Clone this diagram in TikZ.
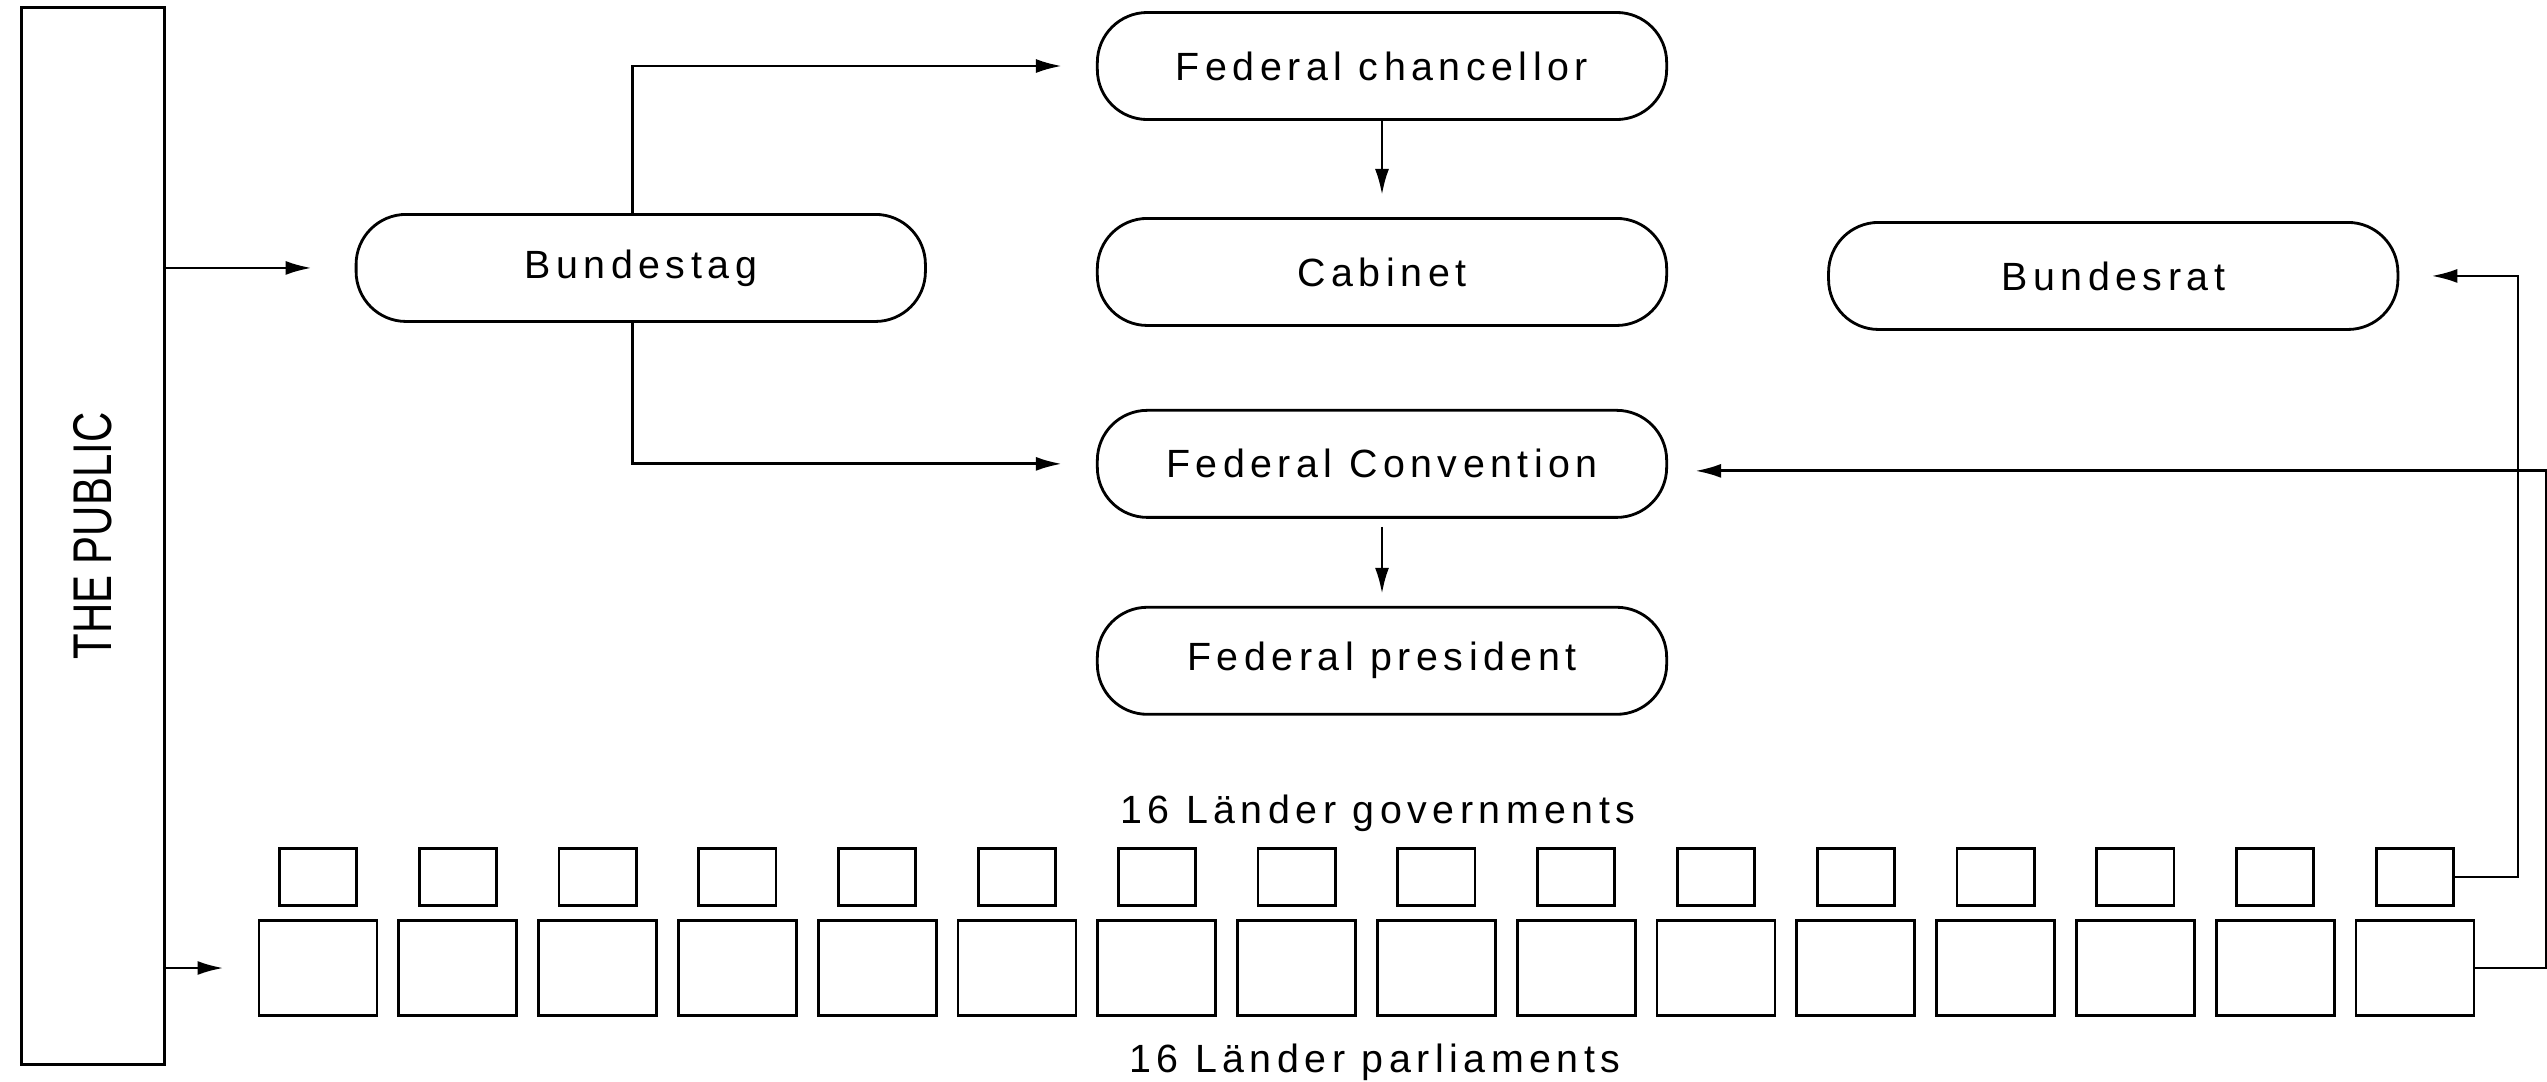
\documentclass[tikz,border=0pt]{standalone}
\usepackage{fontspec}
\newfontfamily\boxfont[LetterSpace=14]{Liberation Sans}
\newfontfamily\publicfont{Liberation Sans}
\usetikzlibrary{arrows.meta,positioning}

\begin{document}
\begin{tikzpicture}[
        x=0.01cm, y=-0.01cm,
        line width=0.8pt,
        >={Latex[length=2.6mm,width=1.4mm]},
        box/.style={
            draw,
            rounded corners=0.5cm,
            font=\boxfont\fontsize{11.2}{13}\selectfont,
            minimum width=5.69cm,
            minimum height=1.07cm
        },
        govbox/.style={draw, minimum width=0.77cm, minimum height=0.57cm},
        parlbox/.style={draw, minimum width=1.18cm, minimum height=0.95cm},
        caption/.style={font=\boxfont\fontsize{11.2}{13}\selectfont, anchor=base}
    ]
        \useasboundingbox (0,0) rectangle (2547,1081);

        \node[draw, minimum width=1.43cm, minimum height=10.56cm] (public) at (93,536) {};
        \node[rotate=90, font=\publicfont\fontsize{15.5}{18}\selectfont] (publictext) at (public.center) {\scalebox{0.77}[1]{THE PUBLIC}};

        \node[box] (chancellor) at (1382,66) {Federal chancellor};
        \node[box, below=0.96cm of chancellor] (cabinet) {Cabinet};
        \node[box, below=0.82cm of cabinet] (convention) {Federal Convention};
        \node[box, below=0.87cm of convention] (president) {Federal president};
        \node[box, left=1.69cm of cabinet, yshift=0.04cm] (bundestag) {Bundestag};
        \node[box, right=1.59cm of cabinet, yshift=-0.04cm] (bundesrat) {Bundesrat};

        % the Laender: governments above, parliaments below
        \foreach \i in {1,...,16} {
            \node[govbox] (gov\i) at ({318+139.8*(\i-1)},877) {};
            \node[parlbox] (parl\i) at ({318+139.8*(\i-1)},968) {};
        }
        \node[caption] (govtitle) at (1378,823) {16 Länder governments};
        \node[caption] (parltitle) at (1375,1072) {16 Länder parliaments};

        \draw[->, shorten >=0.43cm] (public.east |- bundestag.west) -- (bundestag.west);
        \draw[->, shorten >=0.34cm] (public.east |- parl1.west) -- (parl1.west);
        \draw[->, shorten >=0.34cm] ([xshift=-0.08cm]bundestag.north) |- (chancellor.west);
        \draw[->, shorten >=0.34cm] ([xshift=-0.08cm]bundestag.south) |- (convention.west);
        \draw[->, shorten >=0.22cm] (chancellor) -- (cabinet);
        \draw[->, shorten <=0.08cm, shorten >=0.12cm] (convention) -- (president);
        \draw[->, shorten >=0.32cm] (gov16.east) -- ++(63,0) |- (bundesrat.east);
        \draw[->, shorten >=0.27cm] (parl16.east) -- ++(71,0) |- ([yshift=-0.07cm]convention.east);
    \end{tikzpicture}
\end{document}
